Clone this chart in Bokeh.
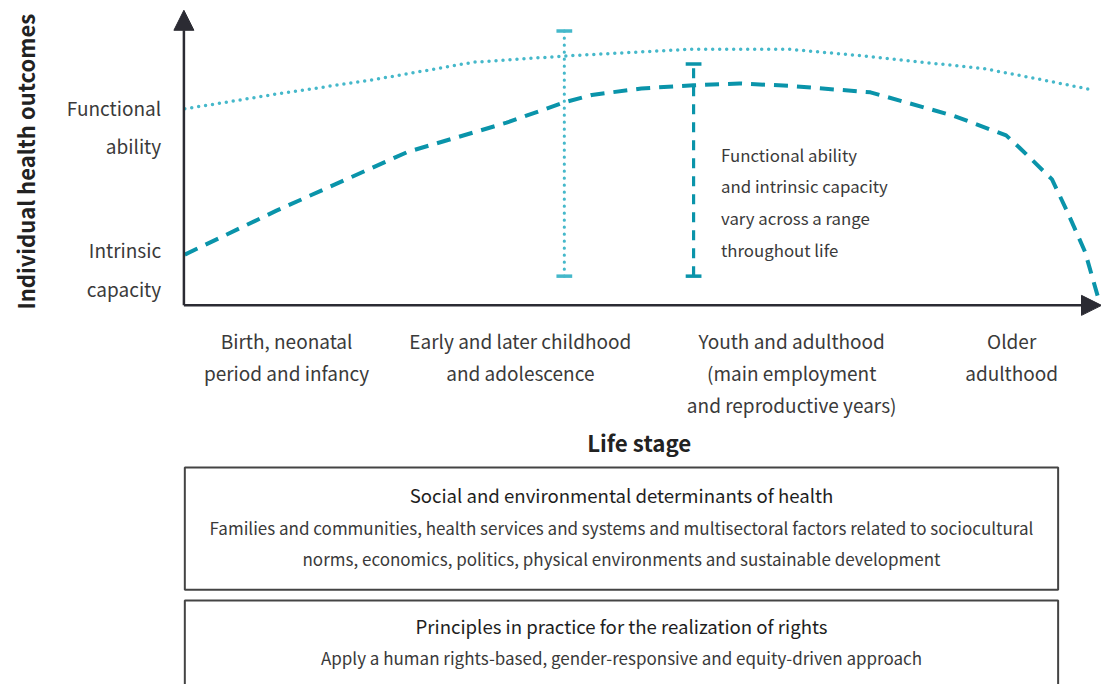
from bokeh.plotting import figure
from bokeh.models import Range1d, Arrow, NormalHead
from bokeh.core.properties import value
from bokeh.embed import file_html
from bokeh.resources import INLINE

# ---------------- data (conceptual scale: life course 0-100, health outcome 0-100)
fa_x = [0, 10.0, 20.8, 31.5, 41.5, 55.2, 65.9, 73.1, 80.2, 87.4, 94.6, 98.7]
fa_y = [66.6, 71.6, 76.6, 82.4, 84.5, 86.8, 86.8, 84.8, 82.5, 80.1, 75.8, 73.2]

ic_x = [0, 10.0, 24.3, 35.1, 41.5, 44.4, 49.8, 55.5, 60.5, 65.9, 74.8, 83.9, 89.6, 91.0, 94.6, 96.3, 98.2, 99.6]
ic_y = [17.2, 32.1, 52.0, 61.9, 68.9, 71.3, 73.5, 74.6, 75.2, 74.4, 72.2, 64.2, 57.6, 53.6, 42.7, 31.5, 18.2, 3.0]

range_fa = [41.4, 9.9, 93.0]   # x, low, high
range_ic = [55.5, 9.9, 81.8]

stage_labels = ["Birth, neonatal\nperiod and infancy",
                "Early and later childhood\nand adolescence",
                "Youth and adulthood\n(main employment\nand reproductive years)",
                "Older\nadulthood"]
stage_pos = [11.1, 36.6, 66.2, 90.2]

y_labels = ["Functional\nability", "Intrinsic\ncapacity"]
y_label_pos = [66.9, 18.9]

note = "Functional ability\nand intrinsic capacity\nvary across a range\nthroughout life"

box1_title = "Social and environmental determinants of health"
box1_text = ["Families and communities, health services and systems and multisectoral factors related to sociocultural",
             "norms, economics, politics, physical environments and sustainable development"]
box2_title = "Principles in practice for the realization of rights"
box2_text = ["Apply a human rights-based, gender-responsive and equity-driven approach"]

# ---------------- style
FONT = "Noto Sans CJK SC"
DARK = "#2b2b33"
TXT = "#3a3a3a"
C_FA = "#45b8ca"
C_IC = "#0a94aa"
PX_X = 9.3    # reference pixels per x unit
PX_Y = 3.02   # reference pixels per y unit
X0, Y0 = 187, 312   # reference pixel of the origin


def dx(px):
    return (px - X0) / PX_X


def dy(py):
    return (Y0 - py) / PX_Y


p = figure(width=1101, height=684, output_backend="svg", toolbar_location=None,
           x_range=Range1d(dx(0), dx(1117)),
           y_range=Range1d(dy(700), dy(0)),
           min_border=0, outline_line_color=None)
p.axis.visible = False
p.grid.visible = False
p.background_fill_color = "white"
p.border_fill_color = "white"

# curves
p.line(fa_x, fa_y, line_color=C_FA, line_width=3.5, line_dash="0 7", line_cap="round")
p.line(ic_x, ic_y, line_color=C_IC, line_width=4, line_dash="14 9")

# range bars
cap = 8 / PX_X
p.segment([range_fa[0]], [range_fa[1]], [range_fa[0]], [range_fa[2]],
          line_color=C_FA, line_width=3.2, line_dash="0 7", line_cap="round")
p.segment([range_fa[0] - cap] * 2, [range_fa[1], range_fa[2]], [range_fa[0] + cap] * 2,
          [range_fa[1], range_fa[2]], line_color=C_FA, line_width=3.5)
p.segment([range_ic[0]], [range_ic[1]], [range_ic[0]], [range_ic[2]],
          line_color=C_IC, line_width=3.2, line_dash="10 8")
p.segment([range_ic[0] - cap] * 2, [range_ic[1], range_ic[2]], [range_ic[0] + cap] * 2,
          [range_ic[1], range_ic[2]], line_color=C_IC, line_width=3.5)

# axes with arrows
p.add_layout(Arrow(end=NormalHead(size=20, fill_color=DARK, line_color=DARK),
                   x_start=-0.1, y_start=0, x_end=-0.1, y_end=100,
                   line_color=DARK, line_width=2.5))
p.add_layout(Arrow(end=NormalHead(size=20, fill_color=DARK, line_color=DARK),
                   x_start=-0.1, y_start=0, x_end=100, y_end=0,
                   line_color=DARK, line_width=2.5))


def lines(txt, x, y0, step, align="center", size="19px", color=TXT, style="normal"):
    parts = txt.split("\n") if isinstance(txt, str) else txt
    ys = [y0 - i * step for i in range(len(parts))]
    p.text([x] * len(parts), ys, text=parts, text_align=align, text_baseline="middle",
           text_font=value(FONT), text_font_size=size, text_color=color,
           text_font_style=style)


LS = 32.5 / PX_Y
# y labels
lines(y_labels[0], dx(163), y_label_pos[0], 38 / PX_Y, align="right", size="19px")
lines(y_labels[1], dx(163), y_label_pos[1], 40 / PX_Y, align="right", size="19px")
# stage labels
for lab, xx in zip(stage_labels, stage_pos):
    lines(lab, xx, dy(348), LS, size="19px")
# note
lines(note, dx(731), dy(158), 32.3 / PX_Y, align="left", size="16.8px")

# titles
p.text([dx(25)], [dy(165)], text=["Individual health outcomes"], angle=1.5708,
       text_align="center", text_baseline="middle", text_font=value(FONT),
       text_font_size="22px", text_font_style="bold", text_color="#222222")
p.text([dx(648)], [dy(452)], text=["Life stage"], text_align="center", text_baseline="middle",
       text_font=value(FONT), text_font_size="22.3px", text_font_style="bold",
       text_color="#222222")

# boxes
p.quad(left=[0], right=[dx(1073)], top=[dy(478)], bottom=[dy(603)],
       fill_color=None, line_color="#444444", line_width=2)
p.quad(left=[0], right=[dx(1073)], top=[dy(614)], bottom=[dy(705)],
       fill_color=None, line_color="#444444", line_width=2)

bx = dx(630)
lines(box1_title, bx, dy(506), 1, size="18.6px", color="#1e1e1e")
lines(box1_text, bx, dy(539), 32.5 / PX_Y, size="17px")
lines(box2_title, bx, dy(640), 1, size="18.6px", color="#1e1e1e")
lines(box2_text, bx, dy(672), 32.5 / PX_Y, size="17px")

open("out.html", "w").write(file_html(p, INLINE))
